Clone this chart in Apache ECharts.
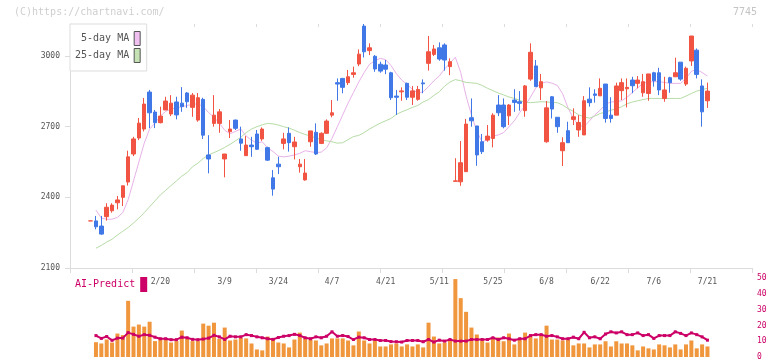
<!DOCTYPE html>
<html lang="ja">
<head>
<meta charset="UTF-8">
<title>7745</title>
<script src="https://cdn.jsdelivr.net/npm/echarts@6/dist/echarts.min.js"></script>
<style>
  * { margin: 0; padding: 0; }
  body { background: #fff; }
  #chart { width: 772px; height: 361px; }
</style>
</head>
<body>
<div id="chart"></div>
<script>
// 日足 (1 candle = 1 trading day)
const openPrices = [
  2300, 2300, 2278, 2318, 2343, 2377, 2400, 2465, 2584, 2652,
  2690, 2847, 2762, 2717, 2771, 2754, 2805, 2800, 2843, 2782,
  2728, 2816, 2580, 2714, 2714, 2563, 2679, 2728, 2648, 2577,
  2622, 2669, 2648, 2611, 2483, 2541, 2629, 2672, 2615, 2530,
  2474, 2636, 2676, 2629, 2672, 2749, 2887, 2905, 2887, 2922,
  2966, 3127, 3023, 2999, 2965, 2962, 2929, 2830, 2848, 2884,
  2825, 2816, 2886, 2969, 3007, 3035, 3047, 2955, 2468, 2466,
  2509, 2738, 2703, 2636, 2643, 2650, 2792, 2792, 2746, 2813,
  2806, 2768, 2902, 2958, 2865, 2636, 2827, 2740, 2598, 2683,
  2731, 2686, 2665, 2817, 2839, 2831, 2881, 2749, 2749, 2853,
  2861, 2898, 2884, 2844, 2841, 2929, 2929, 2820, 2908, 2912,
  2974, 2881, 2979, 3025, 2873, 2810
];
const closePrices = [
  2300, 2275, 2244, 2358, 2367, 2389, 2449, 2572, 2648, 2715,
  2796, 2759, 2717, 2745, 2809, 2800, 2750, 2785, 2806, 2834,
  2823, 2664, 2563, 2749, 2763, 2584, 2690, 2693, 2630, 2622,
  2615, 2604, 2690, 2558, 2435, 2530, 2648, 2632, 2635, 2541,
  2503, 2682, 2584, 2672, 2724, 2759, 2881, 2867, 2912, 2929,
  3008, 3018, 3035, 2945, 2936, 2944, 2823, 2825, 2852, 2825,
  2852, 2858, 2882, 3018, 3030, 2987, 2983, 2976, 2470, 2547,
  2711, 2725, 2580, 2594, 2660, 2749, 2759, 2700, 2792, 2803,
  2799, 2873, 3016, 2870, 2891, 2780, 2775, 2700, 2632, 2632,
  2742, 2718, 2810, 2802, 2833, 2863, 2735, 2735, 2873, 2887,
  2867, 2874, 2898, 2891, 2924, 2895, 2856, 2856, 2887, 2929,
  2902, 2948, 3085, 2922, 2763, 2851
];
const lowPrices = [
  2300, 2264, 2241, 2301, 2335, 2349, 2363, 2450, 2575, 2643,
  2680, 2694, 2694, 2714, 2771, 2745, 2731, 2763, 2780, 2742,
  2721, 2648, 2502, 2700, 2674, 2485, 2652, 2686, 2598, 2577,
  2572, 2601, 2640, 2555, 2407, 2499, 2604, 2594, 2561, 2505,
  2471, 2615, 2580, 2626, 2670, 2740, 2810, 2842, 2877, 2908,
  2957, 2994, 3004, 2933, 2929, 2923, 2813, 2750, 2810, 2813,
  2792, 2810, 2842, 2938, 3000, 2980, 2938, 2919, 2468, 2449,
  2509, 2700, 2534, 2584, 2636, 2612, 2745, 2693, 2707, 2763,
  2768, 2742, 2895, 2870, 2813, 2632, 2735, 2674, 2533, 2632,
  2707, 2657, 2665, 2785, 2802, 2831, 2717, 2717, 2749, 2813,
  2782, 2842, 2863, 2827, 2810, 2870, 2834, 2806, 2844, 2912,
  2895, 2873, 2958, 2905, 2700, 2780
];
const highPrices = [
  2300, 2321, 2321, 2375, 2375, 2406, 2449, 2598, 2657, 2737,
  2822, 2856, 2771, 2785, 2827, 2834, 2827, 2868, 2847, 2843,
  2843, 2823, 2664, 2834, 2775, 2584, 2728, 2730, 2700, 2660,
  2657, 2686, 2697, 2615, 2516, 2572, 2674, 2697, 2657, 2563,
  2563, 2682, 2714, 2676, 2731, 2813, 2905, 2905, 2941, 2955,
  3028, 3136, 3054, 3004, 2976, 2983, 2933, 2856, 2867, 2887,
  2873, 2873, 2901, 3085, 3047, 3058, 3054, 2990, 2566, 2639,
  2733, 2820, 2703, 2669, 2707, 2757, 2834, 2820, 2796, 2859,
  2851, 2877, 3054, 2983, 2924, 2809, 2830, 2740, 2655, 2721,
  2778, 2749, 2830, 2867, 2859, 2905, 2881, 2825, 2887, 2905,
  2905, 2912, 2915, 2924, 2924, 2933, 2950, 2912, 2912, 2993,
  2974, 2955, 3085, 3032, 2901, 2887
];
const ma5 = [
  null, 2346, 2312, 2307, 2307, 2315, 2335, 2390, 2470, 2550,
  2630, 2690, 2715, 2745, 2765, 2775, 2780, 2785, 2790, 2795,
  2797, 2785, 2760, 2740, 2715, 2685, 2670, 2680, 2690, 2660,
  2643, 2630, 2636, 2610, 2595, 2575, 2572, 2575, 2580, 2587,
  2598, 2594, 2590, 2592, 2610, 2650, 2700, 2750, 2800, 2845,
  2890, 2930, 2965, 2980, 2990, 2985, 2960, 2925, 2898, 2880,
  2858, 2843, 2848, 2870, 2895, 2915, 2945, 2970, 2995, 2930,
  2830, 2750, 2680, 2635, 2645, 2660, 2665, 2675, 2700, 2725,
  2760, 2790, 2825, 2865, 2885, 2890, 2885, 2875, 2840, 2780,
  2735, 2705, 2700, 2725, 2750, 2770, 2795, 2805, 2806, 2810,
  2825, 2845, 2865, 2884, 2890, 2891, 2891, 2888, 2884, 2884,
  2884, 2905, 2935, 2943, 2930, 2915
];
const ma25 = [
  null, 2184, 2196, 2210, 2222, 2240, 2256, 2272, 2291, 2312,
  2335, 2360, 2385, 2410, 2430, 2450, 2470, 2490, 2505, 2530,
  2545, 2565, 2580, 2590, 2600, 2612, 2625, 2640, 2655, 2675,
  2690, 2700, 2708, 2714, 2712, 2707, 2700, 2694, 2685, 2675,
  2667, 2660, 2652, 2645, 2640, 2636, 2630, 2632, 2645, 2658,
  2663, 2675, 2690, 2703, 2715, 2725, 2735, 2752, 2763, 2772,
  2782, 2790, 2805, 2815, 2833, 2848, 2872, 2890, 2900, 2895,
  2888, 2886, 2884, 2875, 2863, 2853, 2843, 2835, 2826, 2820,
  2812, 2803, 2802, 2804, 2806, 2805, 2803, 2802, 2792, 2777,
  2765, 2750, 2742, 2736, 2745, 2756, 2762, 2770, 2775, 2785,
  2797, 2805, 2810, 2815, 2820, 2820, 2820, 2820, 2820, 2820,
  2820, 2830, 2841, 2851, 2857, 2863
];
const volume = [
  null, 9.4, 8.6, 11.1, 9.2, 14.9, 13.9, 35.7, 19.3, 20.6,
  19.3, 22.4, 10.1, 11.6, 11.1, 9.2, 10.1, 16.8, 11.8, 10.1,
  10.1, 21.2, 19.9, 21.8, 11.6, 18.7, 10.5, 11.1, 12.2, 11.8,
  8.6, 4.8, 4.2, 13.0, 11.8, 9.2, 8.6, 6.1, 11.1, 15.5,
  11.8, 11.1, 10.5, 7.4, 8.6, 11.8, 11.8, 11.8, 10.5, 7.4,
  16.2, 10.5, 8.6, 10.5, 6.7, 6.7, 8.0, 8.6, 6.7, 8.0,
  6.7, 8.0, 6.1, 21.8, 13.0, 8.6, 9.2, 11.1, 49.5, 37.4,
  28.7, 18.7, 14.3, 10.5, 9.2, 11.8, 12.4, 10.0, 14.9, 8.0,
  11.1, 15.5, 13.0, 11.8, 13.6, 19.9, 11.1, 11.1, 10.5, 11.1,
  7.4, 8.6, 8.6, 6.1, 8.0, 8.0, 10.0, 6.7, 10.0, 8.6,
  8.6, 7.4, 4.2, 6.7, 5.5, 4.8, 8.0, 7.4, 6.1, 8.0,
  4.8, 8.0, 10.5, 5.5, 8.0, 6.7
];
const aiPredict = [
  null, 13.6, 11.8, 13.0, 10.6, 12.0, 12.0, 15.5, 14.4, 13.2,
  14.2, 13.8, 12.6, 11.6, 11.6, 11.0, 11.0, 12.6, 12.2, 11.2,
  11.0, 11.4, 12.0, 13.8, 12.8, 11.2, 13.2, 12.8, 12.8, 14.2,
  13.6, 12.8, 12.2, 11.6, 11.2, 12.4, 13.2, 13.6, 14.4, 13.6,
  12.2, 11.6, 12.8, 12.2, 13.2, 16.0, 13.2, 13.6, 13.0, 11.1,
  12.6, 12.2, 11.1, 11.1, 10.5, 10.5, 9.8, 9.7, 9.5, 10.5,
  10.5, 10.5, 9.7, 11.1, 9.5, 10.7, 10.1, 11.1, 10.1, 10.1,
  10.1, 11.1, 11.1, 11.1, 11.1, 12.2, 11.1, 12.2, 11.6, 10.7,
  11.6, 11.6, 13.6, 14.2, 14.2, 13.2, 13.6, 12.8, 11.6, 11.6,
  12.6, 11.6, 15.7, 12.2, 12.8, 11.6, 14.6, 16.0, 15.3, 16.0,
  14.2, 14.2, 15.3, 13.6, 14.2, 11.8, 13.6, 13.6, 13.6, 16.0,
  15.0, 13.6, 15.3, 14.2, 12.8, 10.7
];
const dateTickIndex = [13, 25, 35, 45, 55, 65, 75, 85, 95, 105, 115];
const dateTickLabels = ['2/20', '3/9', '3/24', '4/7', '4/21', '5/11', '5/25', '6/8', '6/22', '7/6', '7/21'];
const priceTicks = [2100, 2400, 2700, 3000];

const UP = '#f15442';
const DOWN = '#4078e8';
const AXIS = '#dcdcdc';
const MONO = "'DejaVu Sans Mono', monospace";

// レイアウト
const PLOT_LEFT = 70, PLOT_RIGHT = 752, PLOT_TOP = 24, PLOT_BOTTOM = 268;
const STEP = 5.364;           // 1日あたりの幅
const FIRST_X = 90.6;         // 最初のローソク足の中心
const n = openPrices.length;
const bandLeft = FIRST_X - STEP / 2;
const bandWidth = STEP * n;
const bandRight = bandLeft + bandWidth;

const days = openPrices.map((_, i) => i);
const labelAt = {};
dateTickIndex.forEach((idx, k) => { labelAt[idx] = dateTickLabels[k]; });
const candles = openPrices.map((o, i) => [o, closePrices[i], lowPrices[i], highPrices[i]]);

const chart = echarts.init(document.getElementById('chart'), null, { renderer: 'canvas' });

chart.setOption({
  animation: false,
  backgroundColor: '#fff',
  legend: [
    {
      left: PLOT_LEFT, top: PLOT_TOP,
      orient: 'vertical', align: 'right',
      itemWidth: 6, itemHeight: 14, itemGap: 2,
      padding: [7, 6, 8, 5],
      borderColor: '#dddddd', borderWidth: 1, backgroundColor: '#fff',
      selectedMode: false,
      textStyle: { fontFamily: MONO, fontSize: 10, color: '#555' },
      data: [
        { name: '5-day MA', icon: 'rect', itemStyle: { color: '#f0c0f0', borderColor: '#555', borderWidth: 1 } },
        { name: '25-day MA', icon: 'rect', itemStyle: { color: '#c4e2b4', borderColor: '#555', borderWidth: 1 } }
      ]
    },
    {
      left: 75, top: 277,
      align: 'right',
      itemWidth: 7, itemHeight: 15,
      padding: 0,
      selectedMode: false,
      textStyle: { fontFamily: MONO, fontSize: 10, color: '#cc0066' },
      data: [{ name: 'AI-Predict', icon: 'rect', itemStyle: { color: '#cc0066', borderWidth: 0 } }]
    }
  ],
  graphic: [
    { type: 'text', left: 14, top: 7, style: { text: '(C)https://chartnavi.com/', font: '10px ' + MONO, fill: '#cfcfcf' } },
    { type: 'text', right: 15, top: 7, style: { text: '7745', font: '10px ' + MONO, fill: '#c4c4c4' } }
  ],
  grid: [
    { left: PLOT_LEFT, right: 772 - PLOT_RIGHT, top: PLOT_TOP, bottom: 361 - PLOT_BOTTOM },
    { left: bandLeft, width: bandWidth, top: PLOT_TOP, bottom: 361 - PLOT_BOTTOM },
    { left: bandLeft, width: bandWidth, top: 278.3, bottom: 3.3 }
  ],
  xAxis: [
    {
      gridIndex: 0, type: 'value', min: 0, max: 11, interval: 1,
      axisLine: { show: true, lineStyle: { color: AXIS } },
      axisTick: { show: true, length: 5, lineStyle: { color: AXIS } },
      axisLabel: { show: false }, splitLine: { show: false }
    },
    {
      gridIndex: 0, type: 'value', min: 0, max: 11, interval: 1,
      axisLine: { show: false },
      axisTick: { show: true, inside: true, length: 3, lineStyle: { color: AXIS } },
      axisLabel: { show: false }, splitLine: { show: false }
    },
    {
      gridIndex: 1, type: 'category', data: days, boundaryGap: true,
      axisLine: { show: false }, axisTick: { show: false },
      axisLabel: {
        interval: (index) => labelAt[index] !== undefined,
        formatter: (value, index) => labelAt[index] || '',
        margin: 10, fontFamily: MONO, fontSize: 8, color: '#555'
      },
      splitLine: { show: false }
    },
    { gridIndex: 2, type: 'category', data: days, boundaryGap: true, show: false }
  ],
  yAxis: [
    {
      gridIndex: 0, type: 'value', min: 2100, max: 3136, interval: 300,
      axisLine: { show: true, lineStyle: { color: AXIS } },
      axisTick: { show: true, length: 5, customValues: priceTicks, lineStyle: { color: AXIS } },
      axisLabel: {
        customValues: priceTicks,
        formatter: (v) => String(v),
        margin: 10, fontFamily: MONO, fontSize: 8, color: '#555'
      },
      splitLine: { show: false }
    },
    {
      gridIndex: 0, type: 'value', min: 2100, max: 3136, interval: 300,
      axisLine: { show: false },
      axisTick: { show: true, inside: true, length: 4, customValues: priceTicks, lineStyle: { color: AXIS } },
      axisLabel: { show: false }, splitLine: { show: false }
    },
    { gridIndex: 1, type: 'value', min: 2100, max: 3136, show: false },
    {
      gridIndex: 2, type: 'value', min: 0, max: 50, interval: 10,
      position: 'right', offset: PLOT_RIGHT - bandRight,
      axisLine: { show: false }, axisTick: { show: false },
      axisLabel: { margin: 5, fontFamily: MONO, fontSize: 8, color: '#cc0066' },
      splitLine: { show: false }
    }
  ],
  series: [
    {
      name: '5-day MA', type: 'line', xAxisIndex: 2, yAxisIndex: 2,
      data: ma5, symbol: 'none', z: 1,
      lineStyle: { color: '#e8b2e8', width: 1 }, itemStyle: { color: '#f0c0f0' }
    },
    {
      name: '25-day MA', type: 'line', xAxisIndex: 2, yAxisIndex: 2,
      data: ma25, symbol: 'none', z: 1,
      lineStyle: { color: '#b6dca6', width: 1 }, itemStyle: { color: '#c4e2b4' }
    },
    {
      name: 'Price', type: 'candlestick', xAxisIndex: 2, yAxisIndex: 2,
      data: candles, barWidth: 4, z: 2,
      itemStyle: {
        color: UP, color0: DOWN,
        borderColor: UP, borderColor0: DOWN, borderColorDoji: UP,
        borderWidth: 1
      }
    },
    {
      name: 'Volume', type: 'bar', xAxisIndex: 3, yAxisIndex: 3,
      data: volume, barWidth: 4,
      itemStyle: { color: '#f0963c' }
    },
    {
      name: 'AI-Predict', type: 'line', xAxisIndex: 3, yAxisIndex: 3,
      data: aiPredict, symbol: 'rect', symbolSize: 3, showAllSymbol: true, z: 3,
      lineStyle: { color: '#cc0066', width: 2 }, itemStyle: { color: '#cc0066' }
    }
  ]
});
</script>
</body>
</html>
